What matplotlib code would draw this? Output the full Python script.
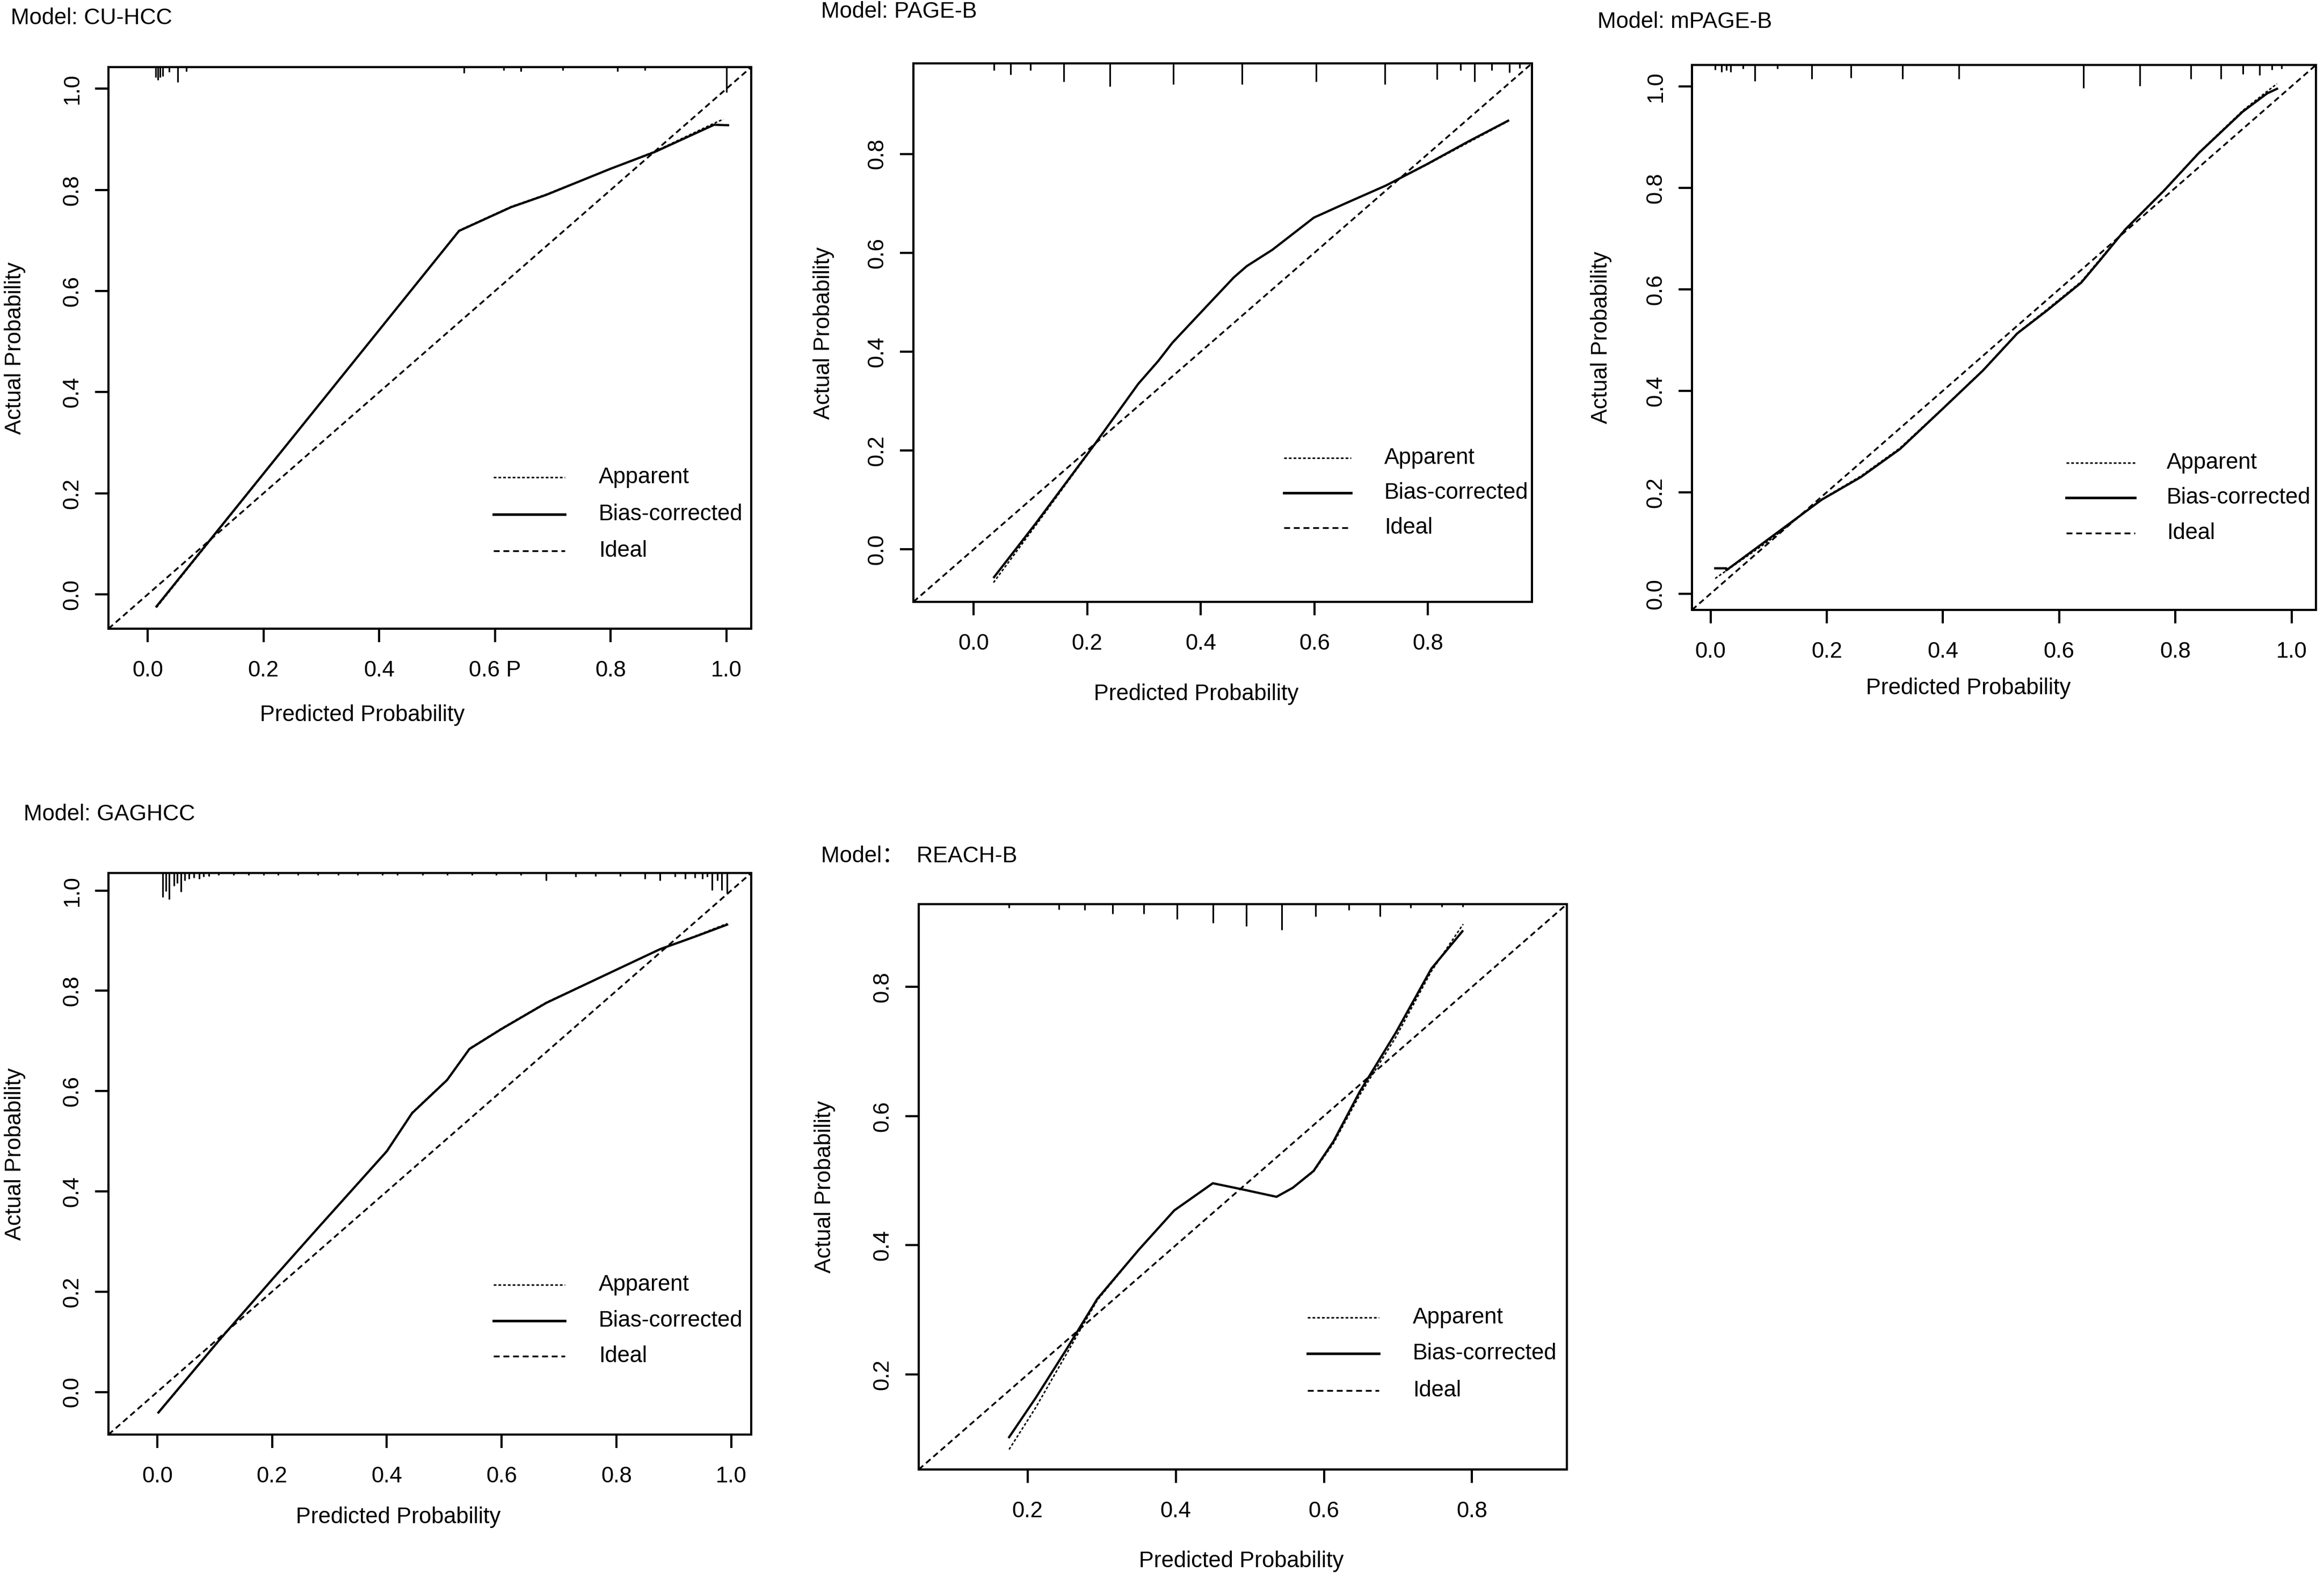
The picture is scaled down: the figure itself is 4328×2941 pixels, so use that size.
import numpy as np
import matplotlib
matplotlib.use("Agg")
import matplotlib.pyplot as plt
from matplotlib.lines import Line2D

plt.rcParams['font.family'] = ['Liberation Sans', 'Noto Sans CJK SC', 'DejaVu Sans']

W, H = 4328, 2941
FS = 30

legend_labels = ["Apparent", "Bias-corrected", "Ideal"]

# ---- CU-HCC
cu_bias_x = [0.015, 0.538, 0.628, 0.688, 0.800, 0.876, 0.979, 1.003]
cu_bias_y = [-0.024, 0.719, 0.766, 0.790, 0.842, 0.875, 0.929, 0.928]
cu_app_x = [0.015, 0.538, 0.628, 0.688, 0.800, 0.876, 0.979, 0.995]
cu_app_y = [-0.026, 0.720, 0.767, 0.791, 0.842, 0.876, 0.932, 0.940]
cu_rug_x = [0.014, 0.017, 0.021, 0.026, 0.037, 0.052, 0.067, 0.546, 0.615, 0.645, 0.717, 0.812, 0.859, 1.000]
cu_rug_h = [0.020, 0.025, 0.020, 0.018, 0.010, 0.030, 0.008, 0.012, 0.006, 0.008, 0.006, 0.008, 0.006, 0.050]

# ---- PAGE-B
pb_bias_x = [0.036, 0.109, 0.214, 0.290, 0.325, 0.350, 0.408, 0.458, 0.481, 0.526, 0.599, 0.653, 0.726, 0.798, 0.871, 0.941]
pb_bias_y = [-0.056, 0.052, 0.214, 0.335, 0.381, 0.418, 0.489, 0.550, 0.573, 0.606, 0.671, 0.699, 0.736, 0.779, 0.825, 0.867]
pb_app_x = [0.035, 0.109, 0.214, 0.290, 0.325, 0.350, 0.408, 0.458, 0.481, 0.526, 0.599, 0.653, 0.726, 0.798, 0.871, 0.941]
pb_app_y = [-0.067, 0.048, 0.213, 0.335, 0.381, 0.418, 0.489, 0.550, 0.573, 0.606, 0.671, 0.699, 0.736, 0.778, 0.823, 0.866]
pb_rug_x = [0.036, 0.065, 0.100, 0.159, 0.240, 0.352, 0.473, 0.603, 0.724, 0.816, 0.857, 0.882, 0.912, 0.943, 0.961]
pb_rug_h = [0.014, 0.023, 0.014, 0.037, 0.047, 0.042, 0.042, 0.037, 0.042, 0.033, 0.014, 0.037, 0.014, 0.019, 0.010]

# ---- mPAGE-B
mp_bias_x = [0.008, 0.027, 0.027, 0.099, 0.191, 0.259, 0.326, 0.402, 0.469, 0.528, 0.579, 0.638, 0.671, 0.714, 0.781, 0.840, 0.916, 0.958, 0.975]
mp_bias_y = [0.050, 0.050, 0.046, 0.107, 0.185, 0.230, 0.285, 0.367, 0.440, 0.513, 0.558, 0.613, 0.658, 0.718, 0.795, 0.868, 0.950, 0.986, 0.995]
mp_app_x = [0.008, 0.099, 0.191, 0.259, 0.326, 0.402, 0.469, 0.528, 0.579, 0.638, 0.671, 0.714, 0.781, 0.840, 0.916, 0.958, 0.975]
mp_app_y = [0.030, 0.103, 0.186, 0.232, 0.287, 0.368, 0.441, 0.514, 0.560, 0.615, 0.660, 0.719, 0.796, 0.869, 0.952, 0.990, 1.005]
mp_rug_x = [0.008, 0.019, 0.027, 0.035, 0.056, 0.076, 0.115, 0.174, 0.242, 0.330, 0.427, 0.642, 0.739, 0.827, 0.878, 0.916, 0.945, 0.966, 0.983]
mp_rug_h = [0.009, 0.014, 0.011, 0.014, 0.007, 0.032, 0.007, 0.027, 0.025, 0.027, 0.027, 0.046, 0.041, 0.027, 0.027, 0.018, 0.020, 0.009, 0.007]

# ---- GAGHCC
ga_bias_x = [0.002, 0.107, 0.200, 0.280, 0.400, 0.444, 0.505, 0.544, 0.600, 0.678, 0.800, 0.876, 0.937, 0.993]
ga_bias_y = [-0.041, 0.102, 0.224, 0.327, 0.480, 0.556, 0.622, 0.684, 0.724, 0.776, 0.842, 0.883, 0.908, 0.932]
ga_app_x = ga_bias_x
ga_app_y = [-0.042, 0.101, 0.224, 0.327, 0.481, 0.557, 0.623, 0.685, 0.725, 0.777, 0.842, 0.883, 0.909, 0.934]
ga_rug_x = [0.0095, 0.015, 0.021, 0.029, 0.035, 0.041, 0.048, 0.055, 0.064, 0.073, 0.081, 0.090,
            0.107, 0.133, 0.159, 0.185, 0.211, 0.245, 0.280, 0.315, 0.349, 0.392, 0.418, 0.462,
            0.505, 0.548, 0.591, 0.634, 0.678, 0.729, 0.764, 0.807, 0.850, 0.876, 0.902, 0.920,
            0.937, 0.950, 0.958, 0.967, 0.976, 0.984, 0.993]
ga_rug_h = [0.048, 0.036, 0.053, 0.026, 0.020, 0.038, 0.015, 0.012, 0.010, 0.012, 0.008, 0.006,
            0.004, 0.004, 0.004, 0.004, 0.004, 0.004, 0.004, 0.004, 0.004, 0.004, 0.004, 0.004,
            0.004, 0.004, 0.004, 0.004, 0.015, 0.008, 0.006, 0.006, 0.012, 0.015, 0.008, 0.012,
            0.010, 0.012, 0.008, 0.034, 0.015, 0.034, 0.041]

# ---- REACH-B
rb_bias_x = [0.175, 0.211, 0.253, 0.294, 0.350, 0.398, 0.450, 0.492, 0.536, 0.558, 0.586, 0.613, 0.648, 0.697, 0.745, 0.787]
rb_bias_y = [0.103, 0.164, 0.240, 0.317, 0.393, 0.454, 0.496, 0.486, 0.475, 0.489, 0.515, 0.561, 0.637, 0.729, 0.828, 0.886]
rb_app_x = [0.175, 0.211, 0.253, 0.294, 0.350, 0.398, 0.450, 0.492, 0.536, 0.558, 0.586, 0.613, 0.648, 0.697, 0.745, 0.788]
rb_app_y = [0.084, 0.149, 0.233, 0.315, 0.393, 0.454, 0.496, 0.486, 0.475, 0.489, 0.514, 0.558, 0.632, 0.722, 0.824, 0.897]
rb_rug_x = [0.175, 0.242, 0.277, 0.315, 0.357, 0.402, 0.450, 0.495, 0.543, 0.589, 0.634, 0.676, 0.717, 0.759, 0.787]
rb_rug_h = [0.006, 0.008, 0.009, 0.015, 0.015, 0.023, 0.029, 0.034, 0.040, 0.019, 0.009, 0.019, 0.006, 0.004, 0.004]

fig = plt.figure(figsize=(W / 100, H / 100), dpi=100)

APP = dict(lw=1.95, dashes=(1.85, 1.4))
BIAS = dict(lw=3.0)
IDEAL = dict(lw=2.4, dashes=(3.3, 2.1))


def panel(box, lims, xt, xtl, yt, app_x, app_y, bias_x, bias_y, rug_x, rug_h,
          title, title_xy, ylab_xy, xlab_xy, leg):
    l, r, t, b = box
    ax = fig.add_axes([l / W, 1 - b / H, (r - l) / W, (b - t) / H])
    ax.plot(app_x, app_y, color='black', **APP)
    ax.plot(bias_x, bias_y, color='black', **BIAS)
    ax.axline((0, 0), (1, 1), color='black', **IDEAL)
    top = lims[1]
    ax.vlines(rug_x, top - np.array(rug_h), top, color='black', lw=2.2)
    ax.set_xlim(lims)
    ax.set_ylim(lims)
    ax.set_xticks(xt)
    ax.set_xticklabels(xtl)
    ax.set_yticks(yt)
    ax.set_yticklabels([f"{v:.1f}" for v in yt], rotation=90, va='center')
    ax.tick_params(axis='both', direction='out', length=18, width=2.9, labelsize=FS)
    ax.tick_params(axis='x', pad=24)
    ax.tick_params(axis='y', pad=16)
    for s in ax.spines.values():
        s.set_linewidth(2.9)
    fig.text(title_xy[0] / W, 1 - title_xy[1] / H, title, fontsize=FS, ha='left', va='center')
    fig.text(ylab_xy[0] / W, 1 - ylab_xy[1] / H, "Actual Probability", fontsize=FS,
             rotation=90, ha='center', va='center')
    fig.text(xlab_xy[0] / W, 1 - xlab_xy[1] / H, "Predicted Probability", fontsize=FS,
             ha='center', va='center')
    # legend drawn like R's legend(): three rows, no frame
    h0, h1, tx, rows = leg
    styles = [APP, dict(lw=3.4), IDEAL]
    for lab, st, ry in zip(legend_labels, styles, rows):
        fig.add_artist(Line2D([h0 / W, h1 / W], [1 - ry / H, 1 - ry / H], color='black',
                              transform=fig.transFigure, **st))
        fig.text(tx / W, 1 - ry / H, lab, fontsize=FS, ha='left', va='center')
    return ax


ticks6 = [0.0, 0.2, 0.4, 0.6, 0.8, 1.0]
ticks5 = [0.0, 0.2, 0.4, 0.6, 0.8]
ticks4 = [0.2, 0.4, 0.6, 0.8]
lab = lambda v: [f"{x:.1f}" for x in v]

panel((202, 1399, 125, 1171), (-0.068, 1.043), ticks6,
      ["0.0", "0.2", "0.4", "0.6 P", "0.8", "1.0"], ticks6,
      cu_app_x, cu_app_y, cu_bias_x, cu_bias_y, cu_rug_x, cu_rug_h,
      "Model: CU-HCC", (20, 34), (28, 648), (675, 1332),
      (919, 1052, 1115, [889, 958, 1026]))

panel((1701, 2853, 118, 1121), (-0.106, 0.983), ticks5, lab(ticks5), ticks5,
      pb_app_x, pb_app_y, pb_bias_x, pb_bias_y, pb_rug_x, pb_rug_h,
      "Model: PAGE-B", (1529, 22), (1534, 620), (2228, 1293),
      (2391, 2516, 2578, [853, 918, 983]))

panel((3151, 4313, 121, 1136), (-0.032, 1.042), ticks6, lab(ticks6), ticks6,
      mp_app_x, mp_app_y, mp_bias_x, mp_bias_y, mp_rug_x, mp_rug_h,
      "Model: mPAGE-B", (2975, 41), (2982, 628), (3666, 1282),
      (3848, 3976, 4035, [862, 927, 993]))

panel((202, 1399, 1626, 2672), (-0.085, 1.035), ticks6, lab(ticks6), ticks6,
      ga_app_x, ga_app_y, ga_bias_x, ga_bias_y, ga_rug_x, ga_rug_h,
      "Model: GAGHCC", (44, 1517), (28, 2149), (742, 2826),
      (919, 1052, 1115, [2393, 2460, 2526]))

panel((1711, 2918, 1684, 2737), (0.053, 0.928), ticks4, lab(ticks4), ticks4,
      rb_app_x, rb_app_y, rb_bias_x, rb_bias_y, rb_rug_x, rb_rug_h,
      "Model：  REACH-B", (1529, 1595), (1536, 2210), (2312, 2908),
      (2435, 2568, 2631, [2454, 2521, 2590]))

fig.savefig("out.png", dpi=100, facecolor='white')
